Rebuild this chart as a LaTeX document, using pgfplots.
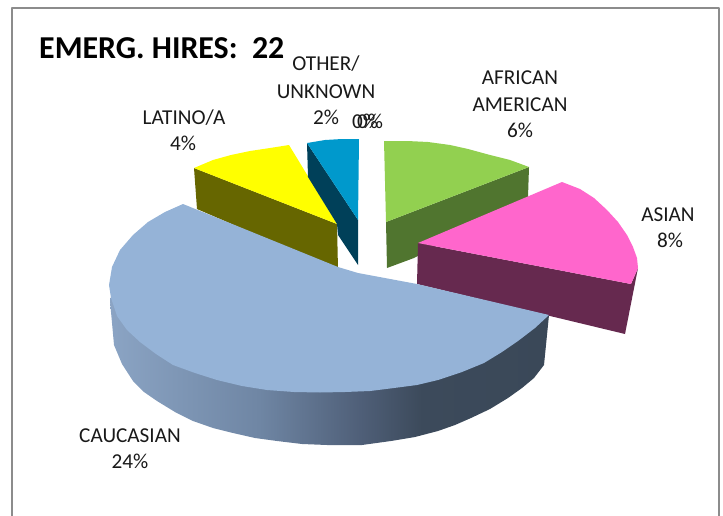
\documentclass[border=0pt]{standalone}
\usepackage{pgfplots}
\pgfplotsset{compat=1.18}
\usepackage{fontspec}
\setmainfont{Carlito}
\definecolor{cBlue}{HTML}{95B3D7}
\definecolor{cGreen}{HTML}{92D050}
\definecolor{cGreenD}{HTML}{50752F}
\definecolor{cPink}{HTML}{FF66CC}
\definecolor{cPinkD}{HTML}{66294F}
\definecolor{cYel}{HTML}{FFFF00}
\definecolor{cYelD}{HTML}{666600}
\definecolor{cTeal}{HTML}{0099CC}
\definecolor{cTealD}{HTML}{004059}
\definecolor{sA}{RGB}{139,164,196}
\definecolor{sB}{RGB}{111,134,164}
\definecolor{sC}{RGB}{79,95,120}
\definecolor{sD}{RGB}{60,74,91}
\definecolor{sE}{RGB}{58,72,88}
\pgfdeclarehorizontalshading{sideshade}{100bp}{
 color(0bp)=(sA);
 color(25bp)=(sA);
 color(42bp)=(sB);
 color(53.5bp)=(sC);
 color(60.5bp)=(sD);
 color(75bp)=(sE);
 color(100bp)=(sE)}
\tikzset{lab/.style={font=\fontsize{21.3}{21.3}\selectfont, text=black!90, inner sep=0pt, anchor=base}}
\begin{document}
\begin{tikzpicture}
\begin{axis}[
  scale only axis, width=723bp, height=516bp,
  xmin=0, xmax=723, ymin=0, ymax=516, y dir=reverse,
  axis lines=none, clip=true, no markers,
  every axis plot/.append style={line join=round},
]
% frame
\addplot[draw=black!45, line width=2.6pt] coordinates {(12,516)(12,8)(719,8)(719,516)};
% Caucasian side
\addplot[draw=none, shading=sideshade] coordinates {(110,298)(110,301)(114,345)(122,364)(133,381)(144,392)(157,401)(175,412)(193,421)(213,428)(233,433)(255,438)(277,441)(302,444)(327,445)(345,445)(362,445)(391,441)(415,437)(438,431)(455,425)(471,418)(490,409)(508,398)(522,388)(534,378)(544,365)(549,315)(358,290)} -- cycle;
% Green
\addplot[draw=none, fill=cGreenD] coordinates {(386,222)(529,167)(528,197)(414,258)(387,268)} -- cycle;
\addplot[draw=none, fill=cGreen] coordinates {(384,141)(407,141)(428,142)(450,145)(468,149)(490,155)(510,160)(529,167)(386,222)} -- cycle;
% Pink
\addplot[draw=none, fill=cPinkD] coordinates {(418,243)(631,284)(638,268)(625,334)(417,284)} -- cycle;
\addplot[draw=none, fill=cPink] coordinates {(418,243)(562,182)(580,189)(594,198)(607,210)(618,222)(627,235)(633,247)(637,258)(638,268)(631,284)} -- cycle;
% Latino
\addplot[draw=none, fill=cYelD] coordinates {(194,168)(337,224)(338,270)(197,209)} -- cycle;
\addplot[draw=none, fill=cYel] coordinates {(194,168)(213,160)(231,155)(250,151)(270,148)(289,145)(337,224)} -- cycle;
% Other
\addplot[draw=none, fill=cTealD] coordinates {(307,143)(358,220)(358,265)(338,235)(337,224)(308,177)} -- cycle;
\addplot[draw=none, fill=cTeal] coordinates {(307,143)(325,140)(342,139)(359,139)(358,220)} -- cycle;
% Caucasian top
\addplot[draw=none, fill=cBlue] coordinates {(358,273)(338,267)(183,204)(165,212)(148,222)(133,235)(120,250)(112,267)(109,285)(111,298)(117,316)(127,330)(140,342)(156,354)(173,365)(195,373)(217,380)(242,386)(267,390)(294,392)(320,392.5)(345,392)(370,391)(394,388)(417,385)(438,380)(462,372)(484,363)(502,352)(518,341)(535,328)(549,315)(417,284)} -- cycle;
% labels
\node[inner sep=0pt, anchor=base west, font=\fontsize{32}{32}\selectfont\bfseries] at (axis cs:39,59) {EMERG. HIRES:\ \ 22};
\node[lab] at (axis cs:326,71) {OTHER/};
\node[lab] at (axis cs:326,98) {UNKNOWN};
\node[lab] at (axis cs:326,124) {2\%};
\node[lab] at (axis cs:365,128) {0\%};
\node[lab] at (axis cs:370,128) {0\%};
\node[lab] at (axis cs:520,85) {AFRICAN};
\node[lab] at (axis cs:520,111) {AMERICAN};
\node[lab] at (axis cs:520,137) {6\%};
\node[lab] at (axis cs:668,221) {ASIAN};
\node[lab] at (axis cs:670,247) {8\%};
\node[lab] at (axis cs:184,124) {LATINO/A};
\node[lab] at (axis cs:183,150) {4\%};
\node[lab] at (axis cs:130,442) {CAUCASIAN};
\node[lab] at (axis cs:130,468) {24\%};
\end{axis}
\pgfresetboundingbox
\path[use as bounding box] (0,0) rectangle (723bp,516bp);
\end{tikzpicture}
\end{document}
